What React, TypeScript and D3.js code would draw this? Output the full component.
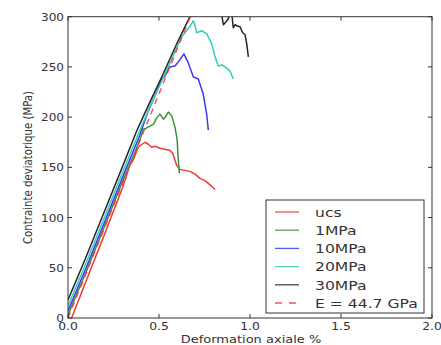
import React from 'react';
import * as d3 from 'd3';

const xTicks = [0, 0.5, 1.0, 1.5, 2.0];
const xTickLabels = ['0.0', '0.5', '1.0', '1.5', '2.0'];
const yTicks = [0, 50, 100, 150, 200, 250, 300];
const yTickLabels = ['0', '50', '100', '150', '200', '250', '300'];

const ucsStrain = [0.02, 0.1, 0.2, 0.3, 0.34, 0.35, 0.36, 0.386, 0.4, 0.423, 0.441, 0.46, 0.478, 0.505, 0.53, 0.56, 0.575, 0.597, 0.615, 0.64, 0.67, 0.7, 0.725, 0.75, 0.771, 0.79, 0.808];
const ucsStress = [0, 37, 83, 130, 152, 155, 158, 170, 172, 175, 173, 170, 171, 169, 168, 167, 164, 152, 148, 147, 146, 143, 139, 137, 134, 131, 128];

const mpa1Strain = [0, 0.1, 0.2, 0.3, 0.37, 0.4, 0.414, 0.43, 0.45, 0.47, 0.487, 0.505, 0.524, 0.535, 0.551, 0.57, 0.588, 0.6, 0.605, 0.612];
const mpa1Stress = [3, 46, 91, 136, 166, 180, 188, 189, 191, 193, 199, 203, 198, 200, 205, 201, 190, 177, 160, 144];

const mpa10Strain = [0, 0.1, 0.2, 0.3, 0.39, 0.441, 0.45, 0.48, 0.515, 0.53, 0.551, 0.56, 0.588, 0.61, 0.637, 0.661, 0.689, 0.716, 0.743, 0.762, 0.771];
const mpa10Stress = [7, 50, 95, 140, 180, 206, 210, 222, 238, 240, 248, 250, 251, 256, 263, 254, 240, 238, 223, 203, 187];

const mpa20Strain = [0, 0.1, 0.2, 0.3, 0.39, 0.45, 0.52, 0.6, 0.625, 0.652, 0.675, 0.689, 0.7, 0.707, 0.72, 0.735, 0.762, 0.79, 0.808, 0.826, 0.845, 0.863, 0.89, 0.908];
const mpa20Stress = [12, 55, 100, 145, 185, 210, 238, 270, 280, 286, 292, 296, 290, 284, 285, 286, 283, 273, 260, 251, 252, 250, 246, 238];

const mpa30Strain = [0, 0.093, 0.2, 0.3, 0.379, 0.45, 0.515, 0.6, 0.67, 0.72, 0.78, 0.82, 0.845, 0.854, 0.868, 0.881, 0.892, 0.9, 0.908, 0.918, 0.927, 0.945, 0.96, 0.973, 0.982, 0.991];
const mpa30Stress = [18, 58, 106, 151, 187, 215, 240, 274, 300, 318, 315, 308, 301, 292, 295, 298, 306, 303, 289, 292, 291, 290, 284, 282, 273, 260];

const eLineStrain = [0, 0.69];
const eLineStress = [0, 308];

const seriesNames = ['ucs', '1MPa', '10MPa', '20MPa', '30MPa'];
const seriesColors = ['#f03a3a', '#3a943a', '#3a3af0', '#36cbbb', '#262626'];
const seriesStrains = [ucsStrain, mpa1Strain, mpa10Strain, mpa20Strain, mpa30Strain];
const seriesStresses = [ucsStress, mpa1Stress, mpa10Stress, mpa20Stress, mpa30Stress];
const eLineName = 'E = 44.7 GPa';

const W = 441;
const H = 345;
const left = 68;
const right = 432;
const top = 16.7;
const bottom = 318;

export default function App() {
  const x = d3.scaleLinear().domain([0, 2]).range([left, right]);
  const y = d3.scaleLinear().domain([0, 300]).range([bottom, top]);
  const line = d3
    .line<[number, number]>()
    .x((d) => x(d[0]))
    .y((d) => y(d[1]));

  const font = 'DejaVu Sans, sans-serif';
  const tickLen = 4;
  const legX = 266;
  const legY = 200;
  const legW = 158;
  const legH = 113;
  const rowY = (i: number) => 212 + i * 18.2;

  return (
    <svg
      width={W}
      height={H}
      style={{ position: 'absolute', left: 0, top: 0, background: '#fff' }}
      fontFamily={font}
    >
      <defs>
        <clipPath id="plotclip">
          <rect x={left} y={top} width={right - left} height={bottom - top} />
        </clipPath>
      </defs>
      <rect x={0} y={0} width={W} height={H} fill="#fff" />

      <g clipPath="url(#plotclip)">
        {seriesNames.map((name, i) => (
          <path
            key={name}
            d={line(seriesStrains[i].map((s, j) => [s, seriesStresses[i][j]] as [number, number])) || ''}
            fill="none"
            stroke={seriesColors[i]}
            strokeWidth={1.5}
            strokeLinejoin="round"
          />
        ))}
        <path
          d={line(eLineStrain.map((s, j) => [s, eLineStress[j]] as [number, number])) || ''}
          fill="none"
          stroke="#f03a3a"
          strokeWidth={1.5}
          strokeDasharray="6,5"
          opacity={0.85}
        />
      </g>

      {/* frame */}
      <rect x={left} y={top} width={right - left} height={bottom - top} fill="none" stroke="#333" strokeWidth={1} />

      {/* ticks */}
      {xTicks.map((t) => (
        <g key={'xt' + t}>
          <line x1={x(t)} x2={x(t)} y1={bottom} y2={bottom - tickLen} stroke="#333" />
          <line x1={x(t)} x2={x(t)} y1={top} y2={top + tickLen} stroke="#333" />
        </g>
      ))}
      {yTicks.map((t) => (
        <g key={'yt' + t}>
          <line x1={left} x2={left + tickLen} y1={y(t)} y2={y(t)} stroke="#333" />
          <line x1={right} x2={right - tickLen} y1={y(t)} y2={y(t)} stroke="#333" />
        </g>
      ))}

      {xTicks.map((t, i) => (
        <text
          key={'xl' + t}
          transform={`translate(${x(t)},330) scale(1.18,1)`}
          textAnchor="middle"
          fontSize={10.5}
          fill="#333"
        >
          {xTickLabels[i]}
        </text>
      ))}
      {yTicks.map((t, i) => (
        <text
          key={'yl' + t}
          transform={`translate(64,${y(t) + 4}) scale(1.15,1)`}
          textAnchor="end"
          fontSize={10.5}
          fill="#333"
        >
          {yTickLabels[i]}
        </text>
      ))}

      <text
        transform={`translate(251,343) scale(1.24,1)`}
        textAnchor="middle"
        fontSize={10.5}
        fill="#333"
      >
        Deformation axiale %
      </text>
      <text
        transform={`translate(32,167.5) rotate(-90) scale(1,1.2)`}
        textAnchor="middle"
        fontSize={10.2}
        fill="#333"
      >
        Contrainte deviatorique (MPa)
      </text>

      {/* legend */}
      <rect x={legX} y={legY} width={legW} height={legH} fill="#fff" stroke="#333" strokeWidth={1} />
      {seriesNames.map((name, i) => (
        <g key={'lg' + name}>
          <line x1={275} x2={299} y1={rowY(i)} y2={rowY(i)} stroke={seriesColors[i]} strokeWidth={1.3} opacity={0.85} />
          <text
            transform={`translate(315,${rowY(i) + 4.8}) scale(1.2,1)`}
            fontSize={13}
            fill="#333"
          >
            {name}
          </text>
        </g>
      ))}
      <line x1={275} x2={299} y1={rowY(5)} y2={rowY(5)} stroke="#f03a3a" strokeWidth={1.3} strokeDasharray="7,7" opacity={0.85} />
      <text transform={`translate(315,${rowY(5) + 4.8}) scale(1.2,1)`} fontSize={13} fill="#333">
        {eLineName}
      </text>
    </svg>
  );
}
